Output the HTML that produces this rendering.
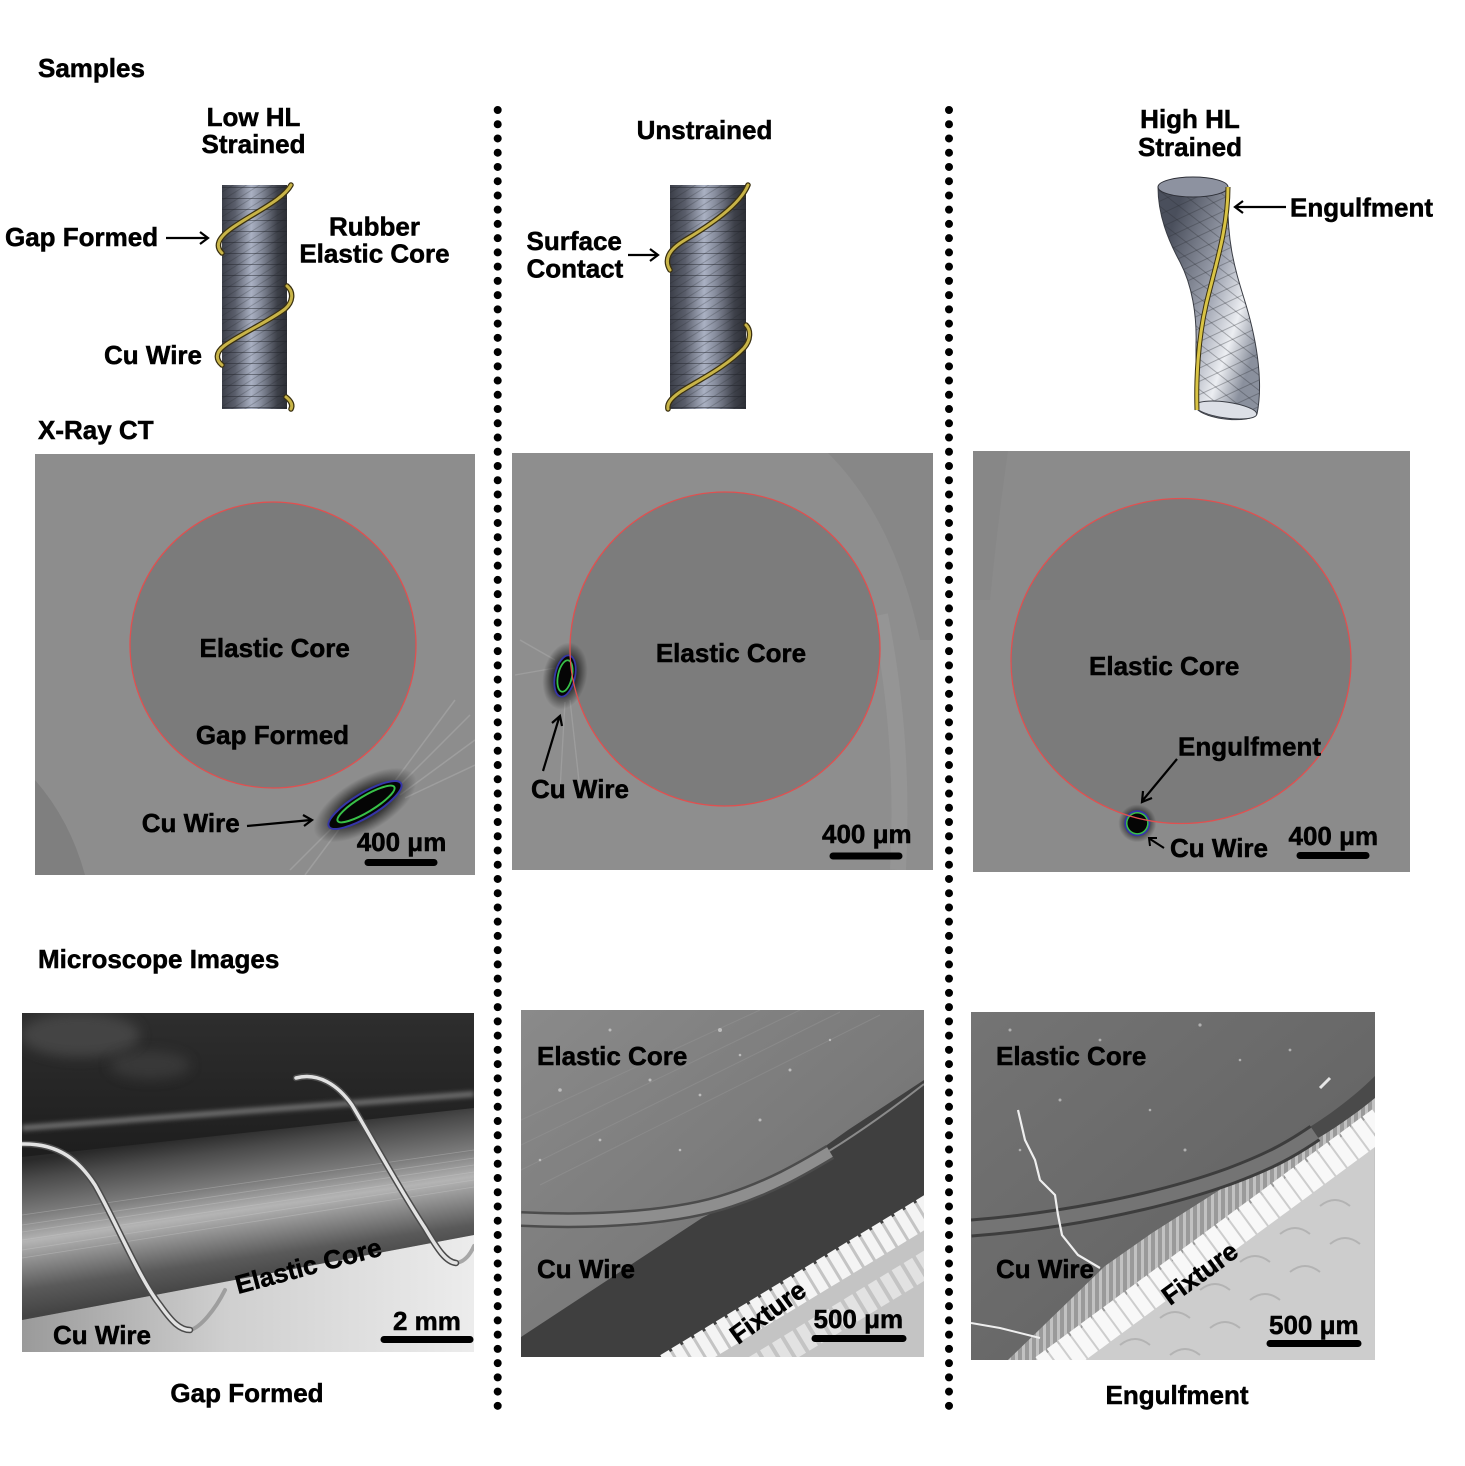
<!DOCTYPE html>
<html><head><meta charset="utf-8"><style>
html,body{margin:0;padding:0;background:#fff;}
svg{display:block;}
.t{font-family:"Liberation Sans",Arial,sans-serif;font-weight:700;font-size:26px;fill:#000;stroke:#000;stroke-width:0.5px;}
</style></head><body>
<svg width="1465" height="1466" viewBox="0 0 1465 1466" xmlns="http://www.w3.org/2000/svg">
<defs>
  <linearGradient id="cyl" x1="0" x2="1" y1="0" y2="0">
    <stop offset="0" stop-color="#3b3e48"/>
    <stop offset="0.2" stop-color="#5a5e6b"/>
    <stop offset="0.45" stop-color="#aab1c3"/>
    <stop offset="0.6" stop-color="#868c9c"/>
    <stop offset="0.85" stop-color="#3d4049"/>
    <stop offset="1" stop-color="#2c2e35"/>
  </linearGradient>
  <pattern id="hz" patternUnits="userSpaceOnUse" width="20" height="11">
    <line x1="0" y1="0.5" x2="20" y2="0.5" stroke="#1e2028" stroke-width="0.7" opacity="0.6"/>
  </pattern>
  <pattern id="dg" patternUnits="userSpaceOnUse" width="20" height="7" patternTransform="rotate(-32)">
    <line x1="0" y1="0.5" x2="20" y2="0.5" stroke="#1e2028" stroke-width="0.6" opacity="0.45"/>
  </pattern>
  <pattern id="g1" patternUnits="userSpaceOnUse" width="30" height="12" patternTransform="rotate(38)">
    <line x1="0" y1="0.5" x2="30" y2="0.5" stroke="#2a2d35" stroke-width="0.7" opacity="0.45"/>
  </pattern>
  <pattern id="g2" patternUnits="userSpaceOnUse" width="30" height="12" patternTransform="rotate(-25)">
    <line x1="0" y1="0.5" x2="30" y2="0.5" stroke="#2a2d35" stroke-width="0.7" opacity="0.45"/>
  </pattern>
  <linearGradient id="tw" gradientUnits="userSpaceOnUse" x1="1150" y1="290" x2="1262" y2="328">
    <stop offset="0" stop-color="#4a4f5c"/>
    <stop offset="0.5" stop-color="#a0a5b2"/>
    <stop offset="0.78" stop-color="#eceef2"/>
    <stop offset="1" stop-color="#8a909d"/>
  </linearGradient>
  <radialGradient id="halo">
    <stop offset="0" stop-color="#000" stop-opacity="0.95"/>
    <stop offset="0.55" stop-color="#000" stop-opacity="0.6"/>
    <stop offset="1" stop-color="#000" stop-opacity="0"/>
  </radialGradient>
  <linearGradient id="tube" gradientUnits="userSpaceOnUse" x1="238" y1="1130" x2="260" y2="1282">
    <stop offset="0" stop-color="#2a2a2a"/>
    <stop offset="0.12" stop-color="#4a4a4a"/>
    <stop offset="0.35" stop-color="#7c7c7c"/>
    <stop offset="0.52" stop-color="#b4b4b4"/>
    <stop offset="0.65" stop-color="#8e8e8e"/>
    <stop offset="0.83" stop-color="#5a5a5a"/>
    <stop offset="1" stop-color="#444"/>
  </linearGradient>
  <linearGradient id="floor" x1="0" x2="1" y1="0" y2="0">
    <stop offset="0" stop-color="#9a9a9a"/>
    <stop offset="0.45" stop-color="#cfcfcf"/>
    <stop offset="1" stop-color="#ececec"/>
  </linearGradient>
  <linearGradient id="topdark" x1="0" x2="0" y1="0" y2="1">
    <stop offset="0" stop-color="#2e2e2e"/>
    <stop offset="0.5" stop-color="#1b1b1b"/>
    <stop offset="1" stop-color="#262626"/>
  </linearGradient>
  <linearGradient id="semc" x1="0" y1="0" x2="1" y2="1">
    <stop offset="0" stop-color="#8a8a8a"/>
    <stop offset="1" stop-color="#6c6c6c"/>
  </linearGradient>
  <linearGradient id="semr" x1="0" y1="0" x2="1" y2="1">
    <stop offset="0" stop-color="#747474"/>
    <stop offset="1" stop-color="#5e5e5e"/>
  </linearGradient>
  <pattern id="vstripe" patternUnits="userSpaceOnUse" width="7" height="10">
    <rect width="7" height="10" fill="#9a9a9a"/>
    <rect width="3" height="10" fill="#c2c2c2"/>
  </pattern>
  <clipPath id="cM1"><rect x="22" y="1013" width="452" height="339"/></clipPath>
  <clipPath id="cM2"><rect x="521" y="1010" width="403" height="347"/></clipPath>
  <clipPath id="cM3"><rect x="971" y="1012" width="404" height="348"/></clipPath>
  <clipPath id="cC1"><rect x="35" y="454" width="440" height="421"/></clipPath>
  <clipPath id="cC2"><rect x="512" y="453" width="421" height="417"/></clipPath>
  <clipPath id="cC3"><rect x="973" y="451" width="437" height="421"/></clipPath>
  <clipPath id="cTw"><path d="M1158 187 C1158 215,1168 240,1180 262 C1192 285,1197 315,1196 345 L1196 408 C1205 420,1250 424,1257 414 C1263 385,1258 345,1246 305 C1236 272,1226 245,1228 187 C1228 175,1158 175,1158 187 Z"/></clipPath>
  <filter id="bl" x="-50%" y="-50%" width="200%" height="200%"><feGaussianBlur stdDeviation="6"/></filter>
  <filter id="bl2" x="-50%" y="-50%" width="200%" height="200%"><feGaussianBlur stdDeviation="2"/></filter>
</defs>

<rect width="1465" height="1466" fill="#fff"/>

<!-- dotted separators -->
<line x1="497.7" y1="110" x2="497.7" y2="1410" stroke="#000" stroke-width="8" stroke-linecap="round" stroke-dasharray="0 14.24"/>
<line x1="949" y1="110" x2="949" y2="1410" stroke="#000" stroke-width="8" stroke-linecap="round" stroke-dasharray="0 14.24"/>

<!-- headings -->
<text class="t" x="38" y="77">Samples</text>
<text class="t" x="253.5" y="126" text-anchor="middle">Low HL</text>
<text class="t" x="253.5" y="153" text-anchor="middle">Strained</text>
<text class="t" x="704.5" y="139" text-anchor="middle">Unstrained</text>
<text class="t" x="1190" y="128" text-anchor="middle">High HL</text>
<text class="t" x="1190" y="156" text-anchor="middle">Strained</text>

<!-- cylinder 1 -->
<rect x="222" y="185" width="65" height="224" fill="url(#cyl)"/>
<rect x="222" y="185" width="65" height="224" fill="url(#hz)"/>
<rect x="222" y="185" width="65" height="224" fill="url(#dg)"/>
<g fill="none" stroke-linecap="round">
  <g stroke="#3a3010" stroke-width="5.5">
    <path d="M291 185 C283 200,255 212,232 228 C218 238,215 246,222 253"/>
    <path d="M287 286 C294 292,293 302,285 309 C268 322,240 334,224 346 C215 353,216 360,222 365"/>
    <path d="M286 397 C291 401,293 405,291 409"/>
  </g>
  <g stroke="#c8b448" stroke-width="3">
    <path d="M291 185 C283 200,255 212,232 228 C218 238,215 246,222 253"/>
    <path d="M287 286 C294 292,293 302,285 309 C268 322,240 334,224 346 C215 353,216 360,222 365"/>
    <path d="M286 397 C291 401,293 405,291 409"/>
  </g>
</g>
<text class="t" x="5" y="246">Gap Formed</text>
<g stroke="#000" stroke-width="2.2" fill="none"><line x1="166" y1="238" x2="207" y2="238"/><polyline points="200,232 208,238 200,244"/></g>
<text class="t" x="374.5" y="235.5" text-anchor="middle">Rubber</text>
<text class="t" x="374.5" y="262.5" text-anchor="middle">Elastic Core</text>
<text class="t" x="104" y="364">Cu Wire</text>

<!-- cylinder 2 -->
<rect x="670" y="185" width="76" height="224" fill="url(#cyl)"/>
<rect x="670" y="185" width="76" height="224" fill="url(#hz)"/>
<rect x="670" y="185" width="76" height="224" fill="url(#dg)"/>
<g fill="none" stroke-linecap="round">
  <g stroke="#3a3010" stroke-width="5.5">
    <path d="M748 185 C740 205,710 225,685 240 C668 250,664 260,670 270"/>
    <path d="M746 325 C751 330,751 340,744 348 C725 368,695 382,680 392 C670 399,667 404,668 409"/>
  </g>
  <g stroke="#c8b448" stroke-width="3">
    <path d="M748 185 C740 205,710 225,685 240 C668 250,664 260,670 270"/>
    <path d="M746 325 C751 330,751 340,744 348 C725 368,695 382,680 392 C670 399,667 404,668 409"/>
  </g>
</g>
<text class="t" x="526.5" y="250">Surface</text>
<text class="t" x="526.5" y="277.5">Contact</text>
<g stroke="#000" stroke-width="2.2" fill="none"><line x1="628" y1="255" x2="657" y2="255"/><polyline points="650,249 658,255 650,261"/></g>

<!-- twisted tube -->
<g>
  <path d="M1158 187 C1158 215,1168 240,1180 262 C1192 285,1197 315,1196 345 L1196 408 C1205 420,1250 424,1257 414 C1263 385,1258 345,1246 305 C1236 272,1226 245,1228 187 Z" fill="url(#tw)" stroke="#3a3d45" stroke-width="1"/>
  <g clip-path="url(#cTw)">
    <rect x="1150" y="170" width="120" height="260" fill="url(#g1)"/>
    <rect x="1150" y="170" width="120" height="260" fill="url(#g2)"/>
  </g>
  <ellipse cx="1226" cy="410" rx="31" ry="8" transform="rotate(8 1226 410)" fill="#dcdfe6" stroke="#3a3d45" stroke-width="1"/>
  <ellipse cx="1193" cy="187" rx="35" ry="10" fill="#8d92a0" stroke="#2e3038" stroke-width="1"/>
  <path d="M1228 187 C1228 230,1214 270,1206 305 C1198 340,1196 380,1197 410" fill="none" stroke="#3a3010" stroke-width="5"/>
  <path d="M1228 187 C1228 230,1214 270,1206 305 C1198 340,1196 380,1197 410" fill="none" stroke="#d9c445" stroke-width="3"/>
</g>
<g stroke="#000" stroke-width="2.2" fill="none"><line x1="1236" y1="207" x2="1286" y2="207"/><polyline points="1243,201 1235,207 1243,213"/></g>
<text class="t" x="1290" y="216.5">Engulfment</text>

<text class="t" x="38" y="439">X-Ray CT</text>

<!-- CT left -->
<g clip-path="url(#cC1)">
  <rect x="35" y="454" width="440" height="421" fill="#8d8d8d"/>
  <path d="M35 780 Q70 820 85 875 L35 875 Z" fill="#7f7f7f"/>
  <ellipse cx="273" cy="645" rx="143" ry="143" fill="#7b7b7b"/>
  <g stroke="#b4b4b4" stroke-width="1.5" opacity="0.45" fill="none">
    <line x1="395" y1="790" x2="470" y2="715"/><line x1="400" y1="795" x2="475" y2="740"/>
    <line x1="392" y1="785" x2="455" y2="700"/><line x1="405" y1="798" x2="475" y2="765"/>
    <line x1="335" y1="825" x2="290" y2="870"/><line x1="340" y1="828" x2="305" y2="875"/>
  </g>
  <ellipse cx="365" cy="805" rx="58" ry="26" transform="rotate(-31 365 805)" fill="url(#halo)"/>
  <ellipse cx="365" cy="805" rx="42" ry="12" transform="rotate(-31 365 805)" fill="#050505" stroke="#3535a8" stroke-width="2"/>
  <ellipse cx="366" cy="804" rx="33" ry="8" transform="rotate(-31 366 804)" fill="none" stroke="#38c048" stroke-width="2"/>
  <circle cx="273" cy="645" r="143" fill="none" stroke="#e05050" stroke-width="1.3"/>
</g>
<text class="t" x="274.7" y="657" text-anchor="middle">Elastic Core</text>
<text class="t" x="272.5" y="744" text-anchor="middle">Gap Formed</text>
<text class="t" x="141.7" y="832">Cu Wire</text>
<g stroke="#000" stroke-width="2.2" fill="none"><line x1="247" y1="826" x2="311" y2="820"/><polyline points="303,815 312,820 304,826"/></g>
<text class="t" x="356.7" y="851">400 μm</text>
<line x1="368" y1="862.5" x2="434" y2="862.5" stroke="#000" stroke-width="7" stroke-linecap="round"/>

<!-- CT middle -->
<g clip-path="url(#cC2)">
  <rect x="512" y="453" width="421" height="417" fill="#8e8e8e"/>
  <path d="M828 453 Q895 520 920 640 L933 640 L933 453 Z" fill="#868686" opacity="0.8"/>
  <path d="M880 615 Q905 740 898 870" fill="none" stroke="#9c9c9c" stroke-width="16" opacity="0.5"/>
  <ellipse cx="725" cy="649" rx="155" ry="157" fill="#7c7c7c"/>
  <g stroke="#b4b4b4" stroke-width="1.3" opacity="0.4" fill="none">
    <line x1="570" y1="700" x2="580" y2="790"/><line x1="565" y1="702" x2="560" y2="790"/>
    <line x1="555" y1="660" x2="520" y2="640"/><line x1="555" y1="668" x2="515" y2="675"/>
  </g>
  <ellipse cx="565" cy="676" rx="22" ry="34" transform="rotate(12 565 676)" fill="url(#halo)"/>
  <ellipse cx="565" cy="676" rx="10" ry="21" transform="rotate(12 565 676)" fill="#050505" stroke="#3535a8" stroke-width="1.8"/>
  <ellipse cx="565" cy="676" rx="7" ry="16" transform="rotate(12 565 676)" fill="none" stroke="#38c048" stroke-width="1.8"/>
  <ellipse cx="725" cy="649" rx="155" ry="157" fill="none" stroke="#e05050" stroke-width="1.3"/>
</g>
<text class="t" x="731" y="662" text-anchor="middle">Elastic Core</text>
<text class="t" x="531" y="798">Cu Wire</text>
<g stroke="#000" stroke-width="2.2" fill="none"><line x1="543" y1="771" x2="559" y2="718"/><polyline points="552,723 560,716 562,726"/></g>
<text class="t" x="822" y="843">400 μm</text>
<line x1="833" y1="856" x2="899" y2="856" stroke="#000" stroke-width="7" stroke-linecap="round"/>

<!-- CT right -->
<g clip-path="url(#cC3)">
  <rect x="973" y="451" width="437" height="421" fill="#8b8b8b"/>
  <path d="M973 451 L1008 451 Q998 520 990 600 L973 600 Z" fill="#878787"/>
  <ellipse cx="1181" cy="661" rx="170" ry="162.5" fill="#7b7b7b"/>
  <circle cx="1137.3" cy="823.3" r="19" fill="url(#halo)"/>
  <circle cx="1137.3" cy="823.3" r="13" fill="#3535a8"/>
  <circle cx="1137.3" cy="823.3" r="11.3" fill="#38c048"/>
  <circle cx="1137.3" cy="823.3" r="9.8" fill="#050505"/>
  <ellipse cx="1181" cy="661" rx="170" ry="162.5" fill="none" stroke="#e05050" stroke-width="1.3"/>
</g>
<text class="t" x="1089" y="675">Elastic Core</text>
<text class="t" x="1178" y="755.5">Engulfment</text>
<g stroke="#000" stroke-width="2.2" fill="none"><line x1="1177" y1="759" x2="1143" y2="800"/><polyline points="1143,791 1142,802 1152,798"/></g>
<text class="t" x="1170" y="857">Cu Wire</text>
<g stroke="#000" stroke-width="2" fill="none"><line x1="1164" y1="848" x2="1150" y2="839"/><polyline points="1150,846 1149,838 1157,838"/></g>
<text class="t" x="1288.5" y="845">400 μm</text>
<line x1="1300" y1="855.5" x2="1366" y2="855.5" stroke="#000" stroke-width="7" stroke-linecap="round"/>

<text class="t" x="38" y="968">Microscope Images</text>

<!-- Micro left (optical) -->
<g clip-path="url(#cM1)">
  <rect x="22" y="1013" width="452" height="339" fill="url(#topdark)"/>
  <ellipse cx="80" cy="1035" rx="60" ry="22" fill="#555" opacity="0.6" filter="url(#bl)"/>
  <ellipse cx="150" cy="1065" rx="40" ry="14" fill="#4a4a4a" opacity="0.5" filter="url(#bl)"/>
  <path d="M22 1128 L474 1094" stroke="#6a6a6a" stroke-width="6" filter="url(#bl2)"/>
  <polygon points="22,1157 474,1108 474,1235 22,1320" fill="url(#tube)"/>
  <g stroke="#d0d0d0" stroke-width="0.8" opacity="0.35">
    <line x1="22" y1="1232" x2="474" y2="1165"/><line x1="22" y1="1240" x2="474" y2="1172"/>
    <line x1="22" y1="1250" x2="474" y2="1180"/><line x1="22" y1="1225" x2="474" y2="1158"/>
    <line x1="22" y1="1258" x2="474" y2="1187"/><line x1="22" y1="1215" x2="474" y2="1150"/>
  </g>
  <polygon points="22,1320 474,1235 474,1352 22,1352" fill="url(#floor)"/>
  <g fill="none" stroke-linecap="round">
    <path d="M190 1330 C200 1328,215 1310,225 1290" stroke="#8a8a8a" stroke-width="4" opacity="0.7"/>
    <path d="M456 1263 C464 1262,470 1255,474 1246" stroke="#8a8a8a" stroke-width="4" opacity="0.7"/>
    <path d="M22 1144 C60 1143,80 1162,95 1185 C115 1220,140 1280,160 1305 C172 1322,180 1330,190 1330" stroke="#4a4a4a" stroke-width="6.5"/>
    <path d="M22 1144 C60 1143,80 1162,95 1185 C115 1220,140 1280,160 1305 C172 1322,180 1330,190 1330" stroke="#e2e2e2" stroke-width="3.5"/>
    <path d="M296 1078 C318 1072,338 1085,352 1105 C370 1135,400 1190,425 1228 C438 1250,446 1262,456 1263" stroke="#4a4a4a" stroke-width="6.5"/>
    <path d="M296 1078 C318 1072,338 1085,352 1105 C370 1135,400 1190,425 1228 C438 1250,446 1262,456 1263" stroke="#e2e2e2" stroke-width="3.5"/>
  </g>
</g>
<text class="t" transform="translate(238 1294) rotate(-15)">Elastic Core</text>
<text class="t" x="53" y="1344">Cu Wire</text>
<text class="t" x="393" y="1330">2 mm</text>
<line x1="384" y1="1339.5" x2="470" y2="1339.5" stroke="#000" stroke-width="7" stroke-linecap="round"/>

<!-- Micro middle (SEM) -->
<g clip-path="url(#cM2)">
  <rect x="521" y="1010" width="403" height="347" fill="url(#semc)"/>
  <g stroke="#959595" stroke-width="1" opacity="0.5">
    <line x1="521" y1="1120" x2="760" y2="1010"/><line x1="521" y1="1145" x2="800" y2="1010"/>
    <line x1="521" y1="1170" x2="840" y2="1012"/><line x1="540" y1="1185" x2="880" y2="1015"/>
  </g>
  <g fill="#bcbcbc">
    <circle cx="610" cy="1030" r="1.5"/><circle cx="720" cy="1030" r="2"/><circle cx="740" cy="1055" r="1.3"/>
    <circle cx="650" cy="1080" r="1.5"/><circle cx="560" cy="1090" r="1.8"/><circle cx="700" cy="1095" r="1.4"/>
    <circle cx="790" cy="1070" r="1.5"/><circle cx="830" cy="1040" r="1.2"/><circle cx="600" cy="1140" r="1.4"/>
    <circle cx="680" cy="1150" r="1.3"/><circle cx="760" cy="1120" r="1.5"/><circle cx="540" cy="1160" r="1.3"/>
  </g>
  <polygon points="521,1337 702,1218 782,1177 848,1130 924,1080 924,1357 521,1357" fill="#3f3f3f"/>
  <path d="M700 1215 C760 1195,840 1150,924 1084" fill="none" stroke="#8a8a8a" stroke-width="2"/>
  <path d="M521 1219 C600 1223,680 1217,730 1200 C770 1187,800 1170,830 1152" fill="none" stroke="#4c4c4c" stroke-width="16"/>
  <path d="M521 1219 C600 1223,680 1217,730 1200 C770 1187,800 1170,830 1152" fill="none" stroke="#8e8e8e" stroke-width="11"/>
  <polygon points="662,1357 924,1198 924,1357" fill="#c4c4c4"/>
  <line x1="668" y1="1368" x2="932" y2="1208" stroke="#f4f4f4" stroke-width="30" stroke-dasharray="10 3"/>
  <line x1="695" y1="1405" x2="955" y2="1247" stroke="#e2e2e2" stroke-width="26" stroke-dasharray="10 4"/>
</g>
<text class="t" x="537" y="1065">Elastic Core</text>
<text class="t" x="537" y="1278">Cu Wire</text>
<text class="t" transform="translate(738 1345) rotate(-36)">Fixture</text>
<text class="t" x="813.5" y="1328">500 μm</text>
<line x1="815" y1="1338.5" x2="903" y2="1338.5" stroke="#000" stroke-width="7" stroke-linecap="round"/>

<!-- Micro right (SEM) -->
<g clip-path="url(#cM3)">
  <rect x="971" y="1012" width="404" height="348" fill="url(#semr)"/>
  <g fill="#b0b0b0">
    <circle cx="1010" cy="1030" r="1.5"/><circle cx="1100" cy="1040" r="1.4"/><circle cx="1200" cy="1025" r="1.6"/>
    <circle cx="1240" cy="1060" r="1.3"/><circle cx="1060" cy="1100" r="1.5"/><circle cx="1150" cy="1110" r="1.3"/>
    <circle cx="1290" cy="1050" r="1.4"/><circle cx="1020" cy="1150" r="1.3"/><circle cx="1185" cy="1150" r="1.5"/>
  </g>
  <path d="M1320 1088 L1330 1078" stroke="#e6e6e6" stroke-width="3"/>
  <polygon points="1008,1360 1105,1266 1152,1233 1298,1140 1375,1082 1375,1360" fill="url(#vstripe)"/>
  <path d="M1090 1208 C1180 1195,1300 1150,1375 1076 L1375 1098 C1300 1160,1200 1200,1100 1215 Z" fill="#4a4a4a"/>
  <path d="M971 1228 C1050 1222,1150 1205,1230 1176 C1270 1161,1290 1150,1315 1133" fill="none" stroke="#3d3d3d" stroke-width="19"/>
  <path d="M971 1228 C1050 1222,1150 1205,1230 1176 C1270 1161,1290 1150,1315 1133" fill="none" stroke="#747474" stroke-width="13"/>
  <polygon points="1038,1360 1374,1113 1375,1360" fill="#cdcdcd"/>
  <g fill="none" stroke="#a9a9a9" stroke-width="2" opacity="0.7">
    <path d="M1120 1345 q15 -12 30 0 M1160 1318 q15 -12 30 0 M1200 1290 q15 -12 30 0 M1240 1262 q15 -12 30 0 M1280 1234 q15 -12 30 0 M1320 1206 q15 -12 30 0"/>
    <path d="M1170 1355 q15 -12 30 0 M1210 1328 q15 -12 30 0 M1250 1300 q15 -12 30 0 M1290 1272 q15 -12 30 0 M1330 1244 q15 -12 30 0"/>
  </g>
  <line x1="1045" y1="1370" x2="1382" y2="1122" stroke="#f8f8f8" stroke-width="32" stroke-dasharray="12 2"/>
  <polyline points="1018,1110 1025,1140 1035,1160 1040,1180 1055,1195 1058,1215 1062,1235 1078,1255 1100,1268" fill="none" stroke="#efefef" stroke-width="2.2"/>
  <polyline points="971,1323 1000,1328 1040,1338" fill="none" stroke="#efefef" stroke-width="2"/>
</g>
<text class="t" x="996" y="1065">Elastic Core</text>
<text class="t" x="996" y="1278">Cu Wire</text>
<text class="t" transform="translate(1170 1306) rotate(-36)">Fixture</text>
<text class="t" x="1269" y="1334">500 μm</text>
<line x1="1270" y1="1343.5" x2="1358" y2="1343.5" stroke="#000" stroke-width="7" stroke-linecap="round"/>

<!-- bottom captions -->
<text class="t" x="247" y="1402" text-anchor="middle">Gap Formed</text>
<text class="t" x="1177" y="1404" text-anchor="middle">Engulfment</text>
</svg>
</body></html>
